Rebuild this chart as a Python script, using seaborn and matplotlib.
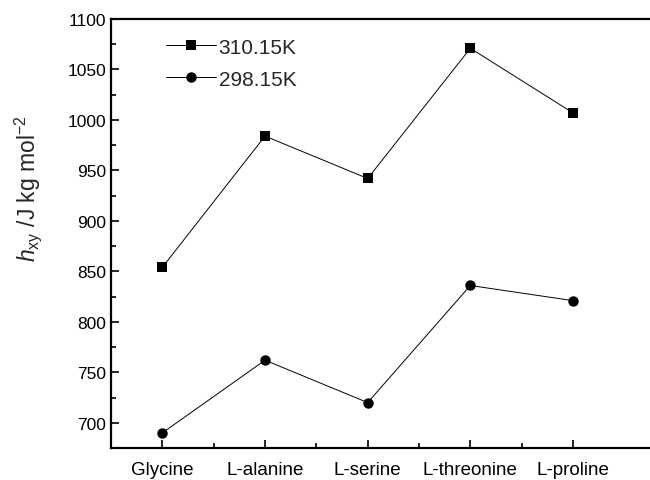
import matplotlib
matplotlib.use("Agg")
import matplotlib.pyplot as plt
import seaborn as sns
import pandas as pd
from matplotlib.ticker import MultipleLocator, FixedLocator
from matplotlib.lines import Line2D

amino_acids = ["Glycine", "L-alanine", "L-serine", "L-threonine", "L-proline"]
h_310 = [854, 984, 942, 1071, 1007]
h_298 = [690, 762, 720, 836, 821]
series_labels = ["310.15K", "298.15K"]

df = pd.DataFrame({
    "amino": amino_acids * 2,
    "h": h_310 + h_298,
    "T": [series_labels[0]] * 5 + [series_labels[1]] * 5,
})

sns.set_style("ticks")
plt.rcParams['font.family'] = ['Liberation Sans', 'DejaVu Sans']
plt.rcParams['mathtext.fontset'] = 'custom'
plt.rcParams['mathtext.rm'] = 'Liberation Sans'
plt.rcParams['mathtext.it'] = 'Liberation Sans:italic'

fig = plt.figure(figsize=(6.5, 4.81), dpi=100)
ax = fig.add_axes([0.1708, 0.0665, 0.8292, 0.8919])

sns.lineplot(data=df, x="amino", y="h", hue="T", style="T",
             markers={"310.15K": "s", "298.15K": "o"}, dashes=False,
             palette={"310.15K": "black", "298.15K": "black"},
             markersize=7.5, linewidth=0.7, markeredgewidth=0,
             ax=ax, legend=False, sort=False)

ax.set_xlim(-0.5, 4.75)
ax.set_ylim(675, 1100)
ax.yaxis.set_major_locator(MultipleLocator(50))
ax.yaxis.set_minor_locator(MultipleLocator(25))
ax.xaxis.set_major_locator(FixedLocator(range(5)))
ax.set_xticklabels(amino_acids)
ax.xaxis.set_minor_locator(FixedLocator([0.5, 1.5, 2.5, 3.5]))
ax.tick_params(which="both", direction="in", width=1.2, colors="black")
ax.tick_params(axis="y", labelsize=12.5)
ax.tick_params(axis="x", labelsize=13.5, pad=9)
ax.tick_params(which="major", length=6)
ax.tick_params(which="minor", length=3.5)

for s in ["left", "bottom", "top"]:
    ax.spines[s].set_linewidth(1.6)
    ax.spines[s].set_color("black")
ax.spines["right"].set_visible(False)

ax.set_xlabel("")
ax.set_ylabel(r"$h_{\mathrm{xy}}$ /J kg mol$^{\mathrm{-2}}$", fontsize=16.5)
ax.yaxis.set_label_coords(-0.125, 0.608)

handles = [Line2D([], [], color="black", lw=0.7, marker="s", markersize=7.5, markeredgewidth=0),
           Line2D([], [], color="black", lw=0.7, marker="o", markersize=7.5, markeredgewidth=0)]
ax.legend(handles, series_labels, loc="upper left", bbox_to_anchor=(0.068, 1.0),
          frameon=False, fontsize=15, handlelength=2.4, handletextpad=0.1, labelspacing=0.62)

fig.savefig("out.png", dpi=100)
